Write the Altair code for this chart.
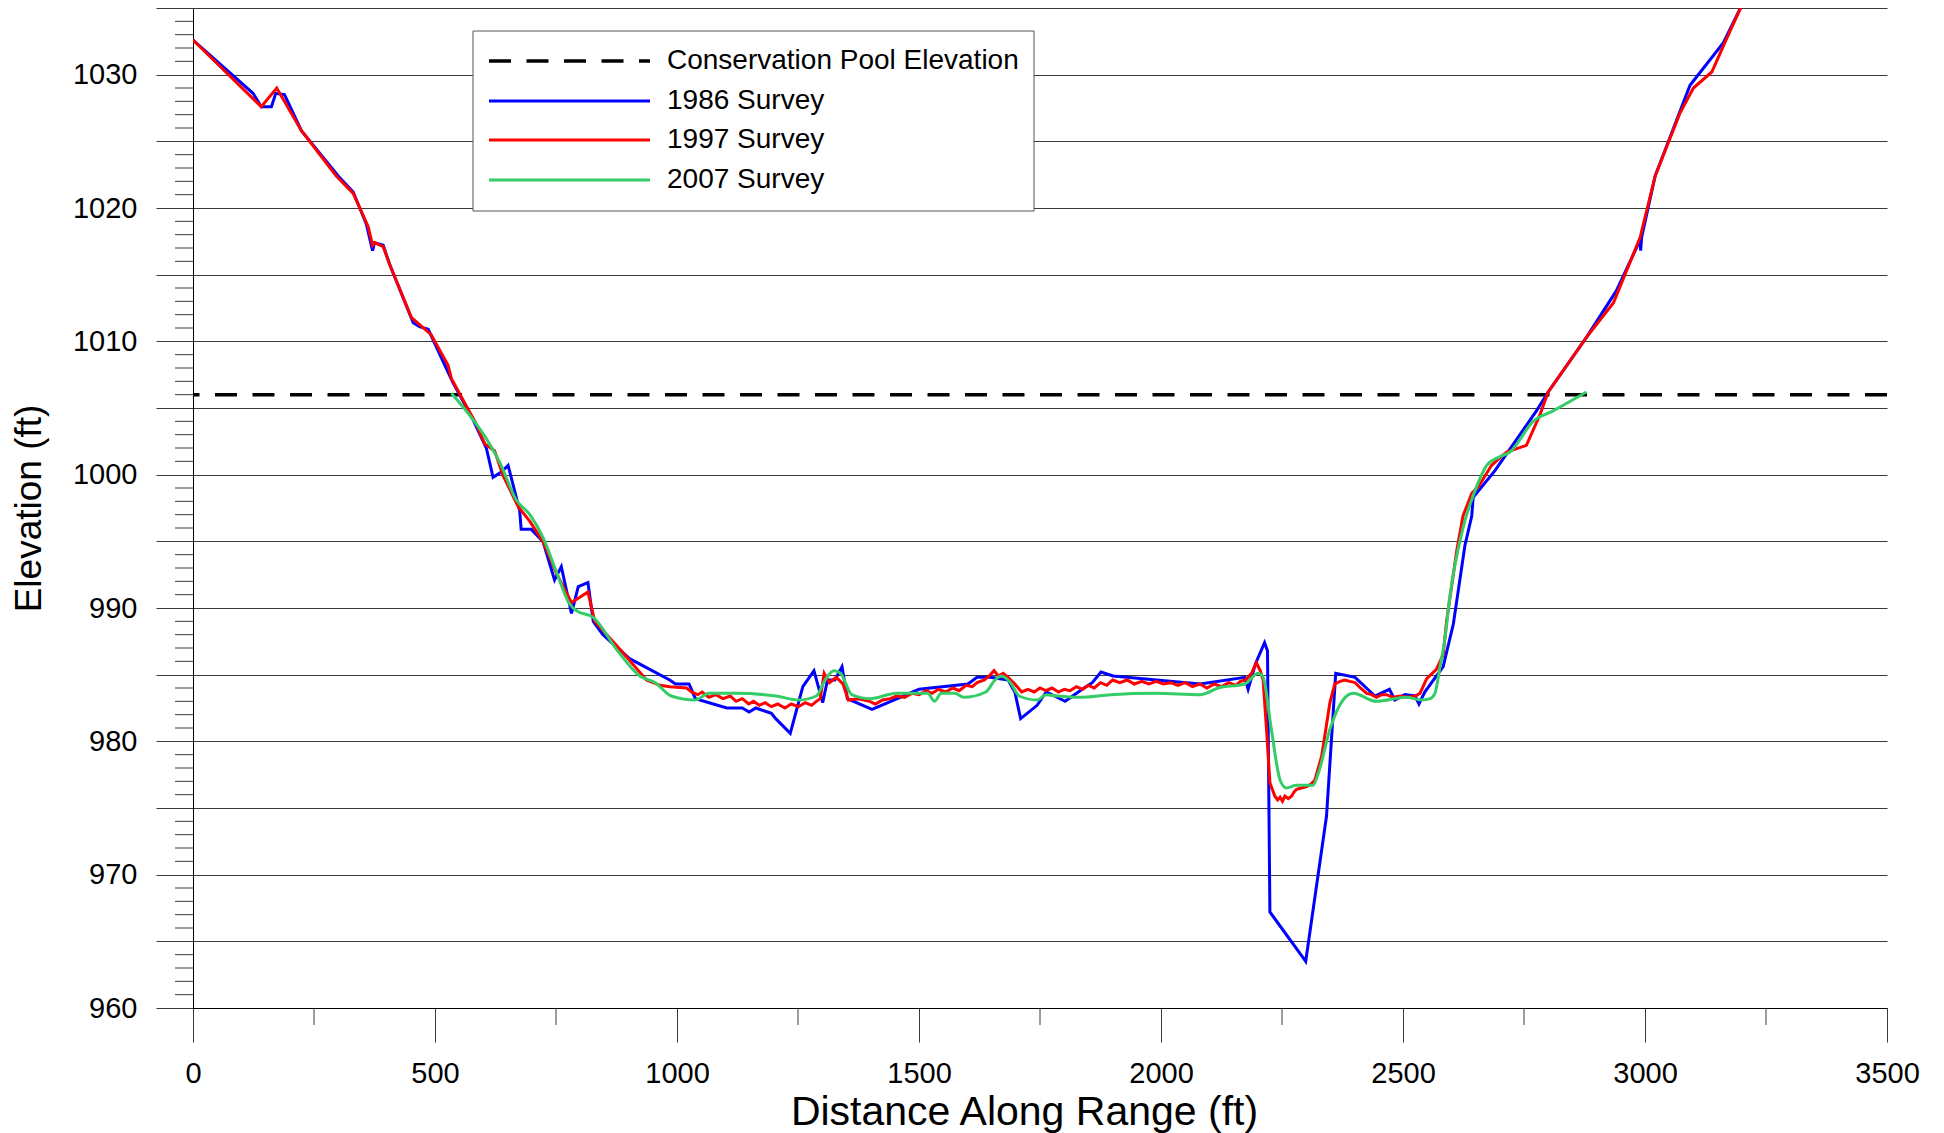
import altair as alt
import pandas as pd

# ---------------- data ----------------
POOL_ELEV = 1006.0

blue_x = [0, 124, 141, 162, 171, 189, 224, 300, 331, 358, 371, 375, 393, 406, 455, 468, 486, 523, 537,
          579, 606, 620, 637, 651, 675, 678, 699, 723, 747, 761, 782, 796, 816, 827, 847, 902, 985, 997,
          1025, 1038, 1103, 1135, 1149, 1163, 1195, 1204, 1234, 1260, 1283, 1301, 1311, 1326, 1341, 1352,
          1403, 1500, 1601, 1620, 1647, 1684, 1698, 1710, 1744, 1763, 1802, 1841, 1858, 1876, 1901, 2081,
          2173, 2180, 2195, 2214, 2220, 2225, 2299, 2342, 2361, 2401, 2442, 2472, 2483, 2504, 2525, 2533,
          2545, 2583, 2604, 2628, 2642, 2645, 2690, 2776, 2800, 2879, 2941, 2990, 2991, 2993, 3021, 3093,
          3162, 3200]
blue_y = [1032.6, 1028.6, 1027.6, 1027.6, 1028.6, 1028.5, 1025.8, 1022.4, 1021.2, 1018.8, 1016.8, 1017.4,
          1017.2, 1015.8, 1011.4, 1011.1, 1010.9, 1008.0, 1006.9, 1004.1, 1002.0, 999.8, 1000.2, 1000.7,
          997.3, 995.9, 995.9, 995.0, 992.1, 993.1, 989.6, 991.6, 991.9, 989.0, 988.0, 986.2, 984.6, 984.3,
          984.3, 983.2, 982.5, 982.5, 982.2, 982.5, 982.1, 981.7, 980.6, 984.1, 985.3, 982.9, 984.6, 984.6,
          985.6, 983.2, 982.4, 983.9, 984.3, 984.8, 984.8, 984.6, 983.7, 981.7, 982.7, 983.7, 983.0, 984.0,
          984.4, 985.2, 984.9, 984.3, 984.8, 983.9, 985.8, 987.4, 986.8, 967.2, 963.5, 974.4, 985.1, 984.8,
          983.4, 983.9, 983.1, 983.5, 983.4, 982.8, 983.7, 985.6, 988.8, 994.7, 996.9, 998.3, 1000.3, 1004.8,
          1006.2, 1010.3, 1013.8, 1017.6, 1016.8, 1017.8, 1022.4, 1029.2, 1032.4, 1035.2]

red_x = [0, 141, 173, 224, 296, 331, 362, 371, 375, 393, 406, 451, 492, 527, 534, 585, 603, 623, 641, 672,
         696, 723, 751, 782, 816, 830, 882, 937, 965, 985, 1020, 1030, 1043, 1052, 1066, 1080, 1095, 1110,
         1122, 1135, 1148, 1158, 1170, 1182, 1195, 1208, 1223, 1236, 1251, 1265, 1278, 1288, 1296, 1304,
         1315, 1329, 1343, 1354, 1375, 1398, 1410, 1425, 1440, 1454, 1470, 1485, 1500, 1515, 1527, 1540,
         1555, 1570, 1583, 1597, 1610, 1620, 1635, 1645, 1655, 1664, 1674, 1684, 1698, 1712, 1725, 1738,
         1750, 1762, 1775, 1788, 1800, 1812, 1825, 1838, 1850, 1862, 1875, 1888, 1900, 1915, 1930, 1945,
         1960, 1975, 1990, 2005, 2020, 2035, 2050, 2065, 2080, 2095, 2110, 2125, 2140, 2155, 2164, 2175,
         2187, 2197, 2205, 2211, 2218, 2225, 2235, 2241, 2246, 2251, 2256, 2263, 2270, 2275, 2280, 2290,
         2301, 2310, 2318, 2332, 2349, 2359, 2370, 2380, 2390, 2401, 2412, 2425, 2435, 2445, 2456, 2466,
         2480, 2494, 2510, 2525, 2535, 2549, 2569, 2583, 2590, 2611, 2624, 2642, 2656, 2683, 2714, 2755,
         2783, 2800, 2879, 2935, 2990, 3021, 3072, 3100, 3138, 3165, 3200]
red_y = [1032.6, 1027.6, 1029.0, 1025.8, 1022.4, 1021.1, 1018.6, 1017.2, 1017.4, 1017.1, 1015.8, 1011.8,
         1010.5, 1008.2, 1007.2, 1003.8, 1002.3, 1001.8, 999.9, 997.6, 996.5, 995.0, 992.6, 990.4, 991.2,
         989.0, 986.9, 984.6, 984.2, 984.1, 984.0, 983.7, 983.5, 983.7, 983.3, 983.5, 983.2, 983.4, 983.0,
         983.2, 982.8, 983.0, 982.7, 982.9, 982.6, 982.8, 982.5, 982.8, 982.6, 982.9, 982.7, 983.0, 983.2,
         985.1, 984.4, 984.8, 984.3, 983.1, 983.2, 983.0, 982.8, 983.1, 983.2, 983.4, 983.3, 983.6, 983.5,
         983.8, 983.6, 983.9, 983.7, 984.0, 983.8, 984.2, 984.1, 984.4, 984.6, 984.9, 985.3, 984.9, 985.1,
         984.8, 984.3, 983.7, 983.9, 983.7, 984.0, 983.8, 984.0, 983.7, 983.9, 983.8, 984.1, 983.9, 984.2,
         984.0, 984.4, 984.2, 984.6, 984.4, 984.6, 984.3, 984.5, 984.3, 984.5, 984.3, 984.4, 984.2, 984.4,
         984.1, 984.3, 984.0, 984.3, 984.1, 984.4, 984.2, 984.5, 984.6, 985.1, 985.9, 985.3, 984.6, 980.9,
         976.9, 975.9, 975.6, 975.8, 975.5, 975.9, 975.7, 975.9, 976.2, 976.4, 976.5, 976.6, 976.8, 977.1,
         978.9, 982.9, 984.3, 984.5, 984.6, 984.5, 984.4, 984.0, 983.6, 983.5, 983.3, 983.5, 983.5, 983.3,
         983.4, 983.3, 983.4, 983.6, 984.7, 985.4, 986.5, 989.0, 994.3, 996.9, 998.6, 999.1, 1000.7, 1001.7,
         1002.2, 1004.5, 1006.2, 1010.3, 1012.9, 1017.8, 1022.4, 1027.1, 1029.0, 1030.2, 1032.4, 1035.2]

green_x = [534, 579, 606, 634, 668, 696, 723, 751, 778, 792, 827, 875, 923, 955, 988, 1038, 1066, 1122,
           1205, 1251, 1288, 1306, 1324, 1338, 1361, 1398, 1454, 1518, 1532, 1546, 1574, 1592, 1638, 1657,
           1670, 1689, 1707, 1744, 1763, 1786, 1832, 1896, 1989, 2081, 2118, 2173, 2201, 2211, 2228, 2246,
           2259, 2280, 2314, 2325, 2349, 2376, 2397, 2445, 2507, 2538, 2556, 2566, 2576, 2587, 2597, 2624,
           2652, 2673, 2697, 2721, 2769, 2811, 2879]
green_y = [1006.1, 1004.1, 1002.7, 1000.9, 998.1, 997.0, 995.3, 992.7, 990.3, 989.8, 989.3, 986.9, 984.9,
           984.4, 983.4, 983.1, 983.6, 983.6, 983.4, 983.1, 983.4, 984.6, 985.3, 985.1, 983.5, 983.2, 983.6,
           983.6, 983.0, 983.6, 983.6, 983.3, 983.7, 984.6, 984.9, 984.4, 983.4, 983.1, 983.5, 983.4, 983.3,
           983.5, 983.6, 983.5, 984.0, 984.3, 985.1, 984.8, 980.9, 977.1, 976.5, 976.7, 976.7, 977.6, 980.9,
           983.1, 983.6, 983.0, 983.3, 983.1, 983.2, 983.6, 985.5, 987.8, 990.9, 996.0, 999.1, 1000.7,
           1001.3, 1001.7, 1004.0, 1004.8, 1006.2]

legend_labels = ["Conservation Pool Elevation", "1986 Survey", "1997 Survey", "2007 Survey"]
legend_colors = ["#000000", "#0000ff", "#ff0000", "#33cc66"]

x_major = list(range(0, 3501, 500))
x_minor = list(range(250, 3500, 500))
y_major = list(range(960, 1036, 5))
y_minor = [v for v in range(961, 1035) if v % 5 != 0]

# ---------------- styling ----------------
FONT = "Liberation Sans"
W, H = 1694, 1000
GRID = "#3a3a3a"

x_scale = alt.Scale(domain=[0, 3500], nice=False, zero=False)
y_scale = alt.Scale(domain=[960, 1035], nice=False, zero=False)

x_axis = alt.Axis(
    values=x_major, format="d", title="Distance Along Range (ft)", grid=False,
    tickSize=34, tickColor=GRID, tickWidth=1, domainColor="#000000", domainWidth=1,
    labelFont=FONT, labelFontSize=29, labelColor="#000000", labelPadding=17,
    labelFlush=False, labelOverlap=False,
    titleFont=FONT, titleFontSize=41, titleFontWeight="normal", titleColor="#000000",
    titleX=831, titleY=116, titleAlign="center", titleBaseline="alphabetic",
)
y_axis = alt.Axis(
    values=y_major, format="d", title="Elevation (ft)", grid=True, gridColor=GRID, gridWidth=1,
    labelExpr="datum.value % 10 === 0 ? datum.label : ''",
    tickSize=37, tickColor=GRID, tickWidth=1, domainColor="#000000", domainWidth=1,
    labelFont=FONT, labelFontSize=29, labelColor="#000000", labelPadding=19,
    labelOverlap=False,
    titleFont=FONT, titleFontSize=37, titleFontWeight="normal", titleColor="#000000",
    titleX=-153, titleY=500, titleAngle=270, titleAlign="center", titleBaseline="alphabetic",
)


def survey(xs, ys, color, interp="linear"):
    df = pd.DataFrame({"dist": xs, "elev": ys})
    return alt.Chart(df).mark_line(color=color, strokeWidth=3, clip=True, interpolate=interp).encode(
        x=alt.X("dist:Q", scale=x_scale, axis=x_axis),
        y=alt.Y("elev:Q", scale=y_scale, axis=y_axis),
    )


pool = alt.Chart(pd.DataFrame({"elev": [POOL_ELEV]})).mark_rule(
    color="#000000", strokeWidth=3.5, strokeDash=[22, 15.5]
).encode(y=alt.Y("elev:Q", scale=y_scale, axis=y_axis))

blue = survey(blue_x, blue_y, legend_colors[1])
red = survey(red_x, red_y, legend_colors[2])
green = survey(green_x, green_y, legend_colors[3], "monotone")

y_minor_ticks = alt.Chart(pd.DataFrame({"elev": y_minor})).mark_rule(color=GRID, strokeWidth=1).encode(
    y=alt.Y("elev:Q", scale=y_scale, axis=y_axis), x=alt.value(-18), x2=alt.value(0)
)
x_minor_ticks = alt.Chart(pd.DataFrame({"dist": x_minor})).mark_rule(color=GRID, strokeWidth=1).encode(
    x=alt.X("dist:Q", scale=x_scale, axis=x_axis), y=alt.value(H), y2=alt.value(H + 17)
)

one = pd.DataFrame({"k": [0]})
legend_box = alt.Chart(one).mark_rect(fill="#ffffff", stroke="#555555", strokeWidth=1).encode(
    x=alt.value(280), x2=alt.value(841), y=alt.value(23), y2=alt.value(203)
)
legend_layers = [legend_box]
row_y = [53, 93, 132, 172]
for i, (lab, col) in enumerate(zip(legend_labels, legend_colors)):
    rule_kw = dict(color=col, strokeWidth=3)
    if i == 0:
        rule_kw = dict(color=col, strokeWidth=3.5, strokeDash=[22, 15.5])
    legend_layers.append(
        alt.Chart(one).mark_rule(**rule_kw).encode(
            x=alt.value(296), x2=alt.value(457), y=alt.value(row_y[i])
        )
    )
    legend_layers.append(
        alt.Chart(pd.DataFrame({"t": [lab]})).mark_text(
            font=FONT, fontSize=28, color="#000000", align="left", baseline="middle"
        ).encode(text="t:N", x=alt.value(474), y=alt.value(row_y[i]))
    )

chart = alt.layer(
    pool, blue, red, green, y_minor_ticks, x_minor_ticks, *legend_layers
).properties(
    width=W, height=H,
    autosize=alt.AutoSizeParams(type="none"),
    padding={"left": 185, "top": 0, "right": 36, "bottom": 125},
    background="#ffffff",
).configure_view(stroke=None)

chart.save("out.html", embed_options={"renderer": "svg", "actions": False})
